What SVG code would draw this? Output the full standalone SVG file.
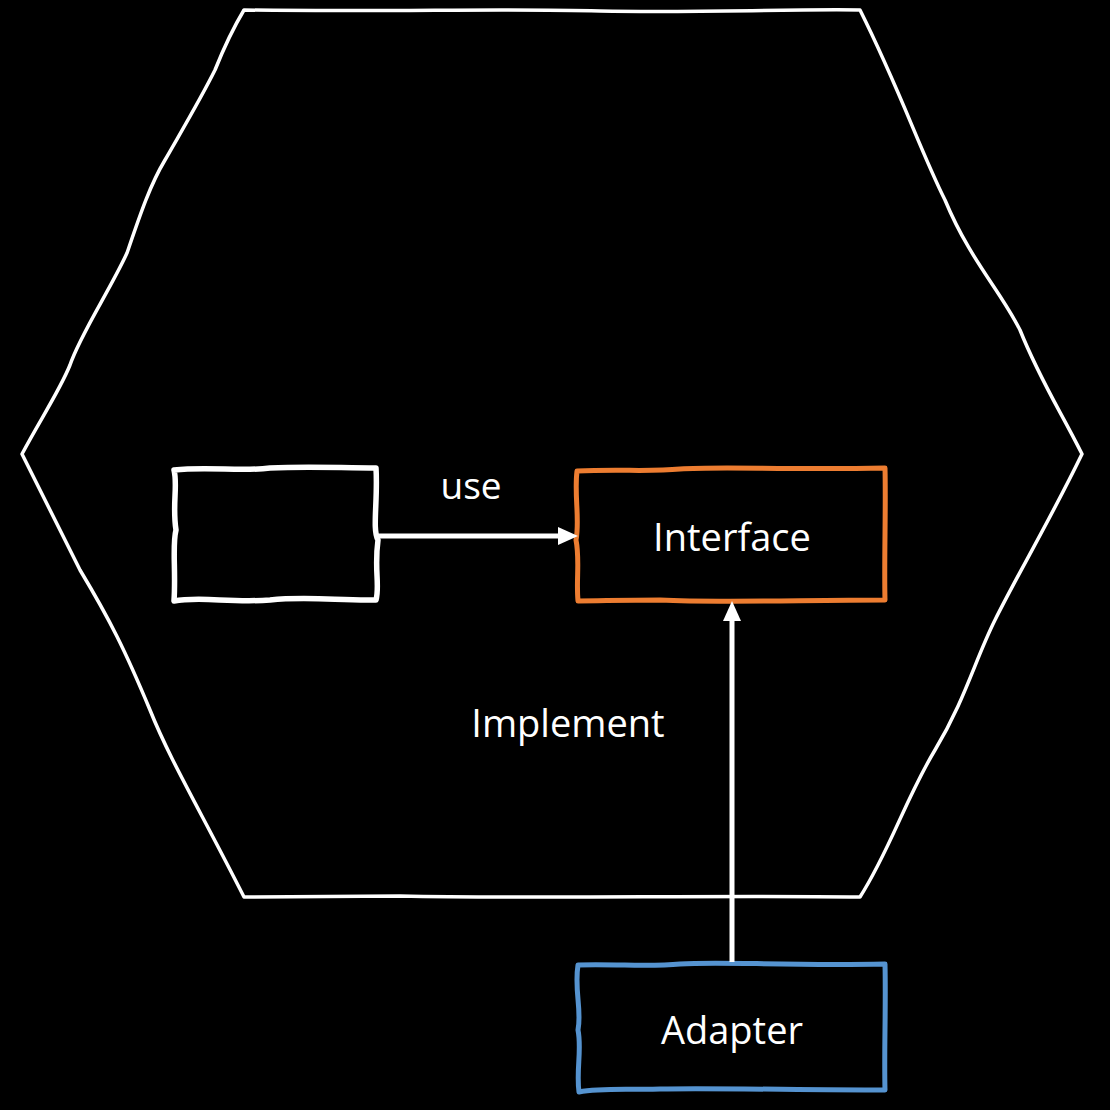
<svg xmlns="http://www.w3.org/2000/svg" width="1110" height="1110" viewBox="0 0 1110 1110">
<style>
.lbl{font-family:"Open Sans","Noto Sans","Liberation Sans",sans-serif;fill:#fff;text-anchor:middle}
.conn{stroke:#fff;stroke-width:5;fill:none}
</style>
<defs>
<marker id="ah" markerWidth="4" markerHeight="3.6" refX="0" refY="1.8" orient="auto" markerUnits="strokeWidth">
<path d="M0,0 L4,1.8 L0,3.6 Z" fill="#fff"/>
</marker>
</defs>
<rect width="1110" height="1110" fill="#000"/>
<g id="hexagon">
<path d="M244,10 C400,12 500,8 600,11 C700,13 780,9 860,10 C900,90 920,150 945,200 C970,260 1000,290 1020,330 C1040,380 1060,410 1082,454 C1050,520 1020,570 995,620 C975,660 965,700 935,750 C905,800 890,850 860,897 C700,895 550,899 400,896 C320,897 280,897 244,897 C200,810 170,760 150,710 C125,650 110,620 80,570 C60,530 40,490 22,454 C40,420 60,390 70,365 C80,335 110,290 127,253 C140,215 150,185 165,160 C185,125 200,100 215,70 C225,45 235,25 244,10 Z" fill="none" stroke="#fff" stroke-width="3.5" stroke-linejoin="round"/>
</g>
<g id="box1">
<path d="M174,470 C210,466 240,472 270,468 C310,466 340,468 376,468 C378,500 372,530 378,540 C374,570 380,585 376,600 C340,601 310,596 270,600 C230,603 200,596 174,601 C176,570 172,545 176,530 C172,505 178,485 174,470 Z" fill="#000" stroke="#fff" stroke-width="5.5" stroke-linejoin="round"/>
</g>
<g id="interface">
<path d="M577,471 C620,469 650,472 680,469 C720,466 780,470 885,468 C886,510 884,560 885,600 C800,600 720,603 660,600 C620,600 600,601 578,601 C576,580 580,560 576,540 C580,520 574,495 577,471 Z" fill="#000" stroke="#ED7D31" stroke-width="5" stroke-linejoin="round"/>
<text class="lbl" x="732" y="551" font-size="38">Interface</text>
</g>
<g id="adapter">
<path d="M578,965 C620,964 650,967 680,964 C720,961 780,966 885,964 C886,1010 884,1050 885,1090 C800,1090 720,1088 660,1089 C620,1090 600,1088 579,1092 C576,1070 582,1050 578,1030 C582,1010 574,990 578,965 Z" fill="#000" stroke="#5593D0" stroke-width="5" stroke-linejoin="round"/>
<text class="lbl" x="732" y="1044" font-size="38">Adapter</text>
</g>
<g id="connectors">
<line class="conn" x1="378" y1="536" x2="558" y2="536" marker-end="url(#ah)"/>
<line class="conn" x1="732" y1="962" x2="732" y2="621" marker-end="url(#ah)"/>
<text class="lbl" x="471" y="499" font-size="37">use</text>
<text class="lbl" x="568" y="737" font-size="38">Implement</text>
</g>
</svg>
